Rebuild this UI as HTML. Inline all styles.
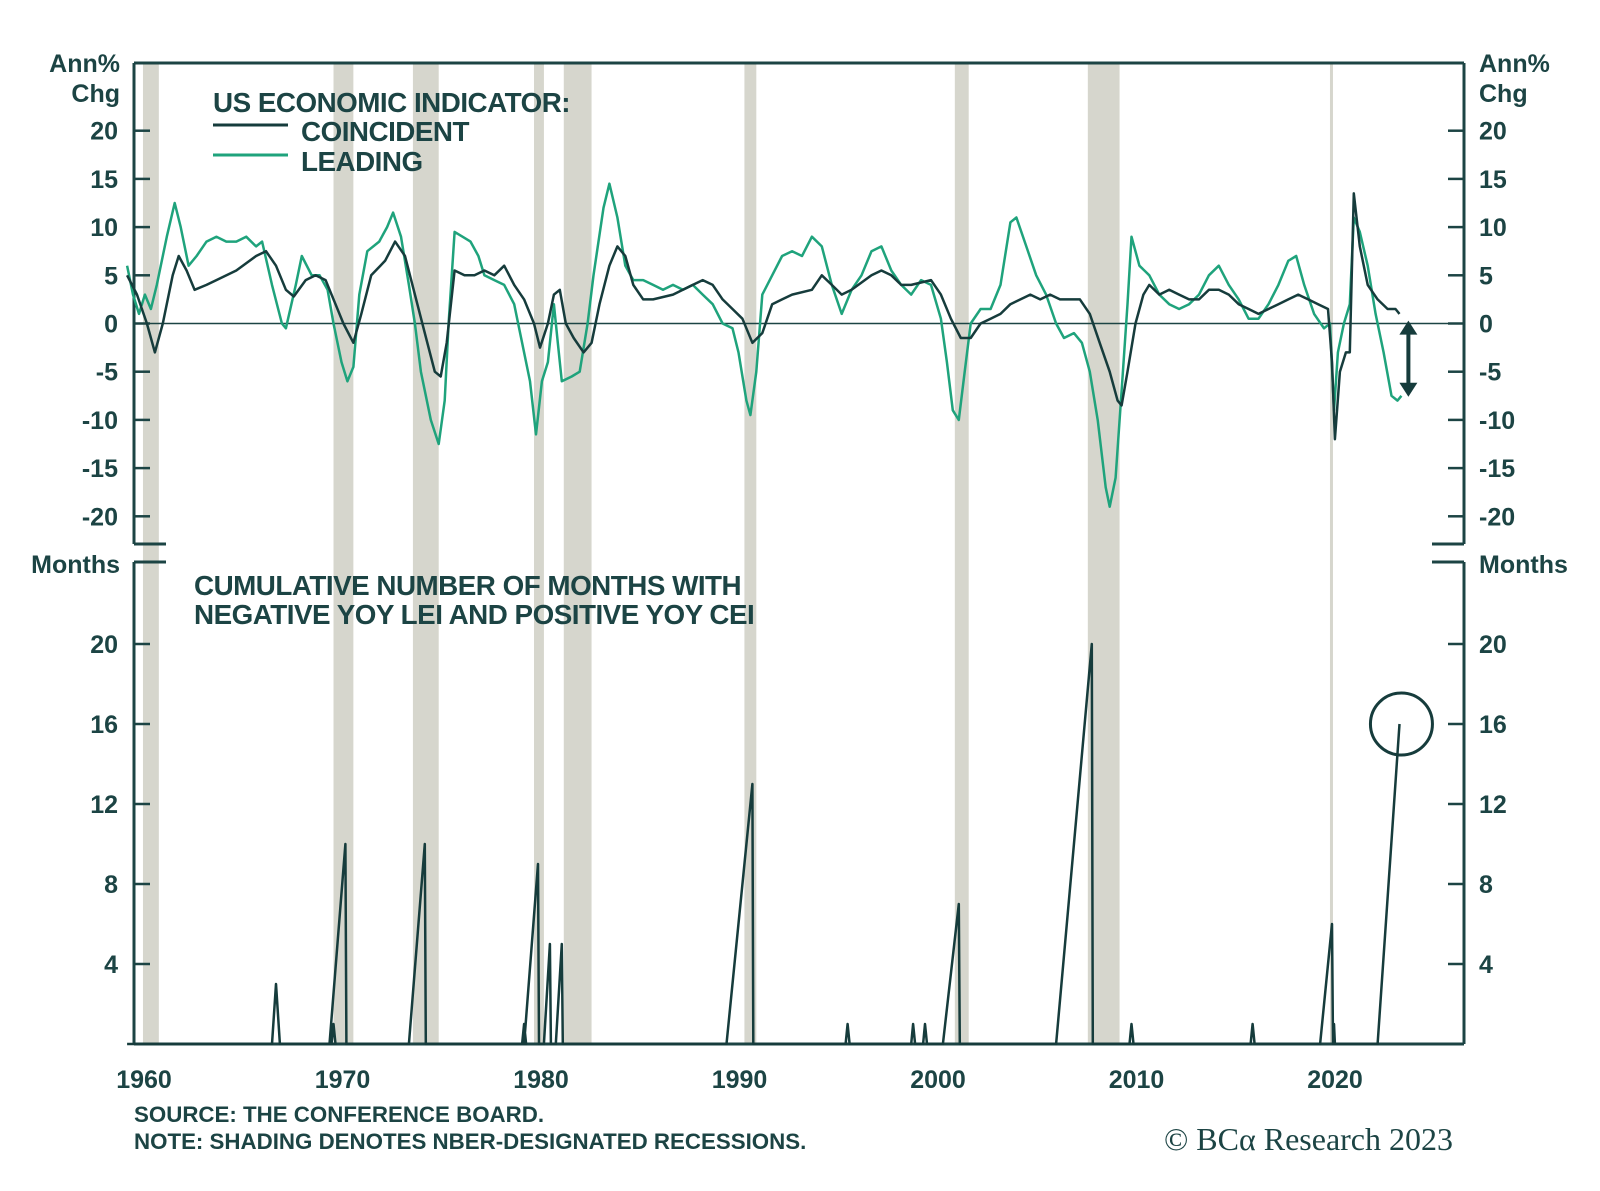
<!DOCTYPE html>
<html><head><meta charset="utf-8"><style>
body{margin:0;background:#fff;}
svg{display:block;font-family:"Liberation Sans",sans-serif;}
.lbl{font-size:25px;font-weight:bold;fill:#1c4444;}
.ttl{font-size:27.8px;font-weight:bold;fill:#1c4444;letter-spacing:-0.5px;}
.note{font-size:22.3px;font-weight:bold;fill:#1c4444;}
</style></head><body>
<svg id="chart" width="1600" height="1191" viewBox="0 0 1600 1191" xmlns="http://www.w3.org/2000/svg">
<g id="shade"></g>
<g id="axes"></g>
<g id="series"></g>
<g>
<text class="ttl" x="213" y="112">US ECONOMIC INDICATOR:</text>
<line x1="213" y1="125" x2="288" y2="125" stroke="#163c3c" stroke-width="3"/>
<text class="ttl" x="301" y="141">COINCIDENT</text>
<line x1="213" y1="155" x2="288" y2="155" stroke="#1fa37c" stroke-width="3"/>
<text class="ttl" x="301" y="171">LEADING</text>
</g>
<text class="ttl" x="194" y="595">CUMULATIVE NUMBER OF MONTHS WITH</text>
<text class="ttl" x="194" y="624">NEGATIVE YOY LEI AND POSITIVE YOY CEI</text>
<text class="lbl" x="120" y="72" text-anchor="end">Ann%</text>
<text class="lbl" x="120" y="102" text-anchor="end">Chg</text>
<text class="lbl" x="1479" y="72">Ann%</text>
<text class="lbl" x="1479" y="102">Chg</text>
<text class="lbl" x="120" y="573" text-anchor="end">Months</text>
<text class="lbl" x="1479" y="573">Months</text>
<text class="note" x="134" y="1122">SOURCE: THE CONFERENCE BOARD.</text>
<text class="note" x="134" y="1149">NOTE: SHADING DENOTES NBER-DESIGNATED RECESSIONS.</text>
<text x="1453" y="1150" text-anchor="end" style="font-family:'Liberation Serif',serif;font-size:32px;fill:#1c4444">© BCα Research 2023</text>
</svg>
<script>
const recStart=[1960.3,1969.9,1973.9,1980.0,1981.5,1990.6,2001.2,2007.9,2020.1];
const recEnd=[1961.1,1970.9,1975.2,1980.5,1982.9,1991.2,2001.9,2009.5,2020.25];
const topTicks=[20,15,10,5,0,-5,-10,-15,-20];
const botTicks=[20,16,12,8,4];
const yearTicks=[1960,1970,1980,1990,2000,2010,2020];
const coinYears=[1959.5,1960.0,1960.5,1960.9,1961.3,1961.8,1962.1,1962.5,1962.9,1963.5,1964,1965,1966,1966.5,1967,1967.5,1967.9,1968.5,1969,1969.5,1970,1970.4,1970.9,1971.3,1971.8,1972.5,1973.0,1973.5,1974,1974.5,1975.0,1975.3,1975.6,1976,1976.5,1977,1977.5,1978,1978.5,1979.0,1979.5,1980.0,1980.3,1980.7,1981.0,1981.3,1981.6,1982,1982.5,1982.9,1983.3,1983.8,1984.2,1984.6,1985,1985.5,1986,1987,1988,1988.5,1989,1989.5,1990,1990.5,1991.0,1991.5,1992,1992.5,1993,1994,1994.5,1995,1995.5,1996,1997,1997.5,1998,1998.5,1999,2000,2000.5,2001.0,2001.5,2002,2002.5,2003,2003.5,2004,2005,2005.5,2006,2006.5,2007,2007.5,2008,2008.5,2009.0,2009.4,2009.6,2009.9,2010.3,2010.7,2011,2011.5,2012,2012.5,2013,2013.5,2014,2014.5,2015,2015.5,2016,2016.5,2017,2017.5,2018,2018.5,2019,2019.5,2020.0,2020.2,2020.35,2020.6,2020.9,2021.1,2021.3,2021.6,2022,2022.5,2023,2023.4,2023.6];
const coinVals=[5,3,0,-3,0,5,7,5.5,3.5,4,4.5,5.5,7,7.5,6,3.5,2.8,4.5,5,4.5,2,0,-2,1,5,6.5,8.5,7,3,-1,-5,-5.5,-2,5.5,5,5,5.5,5,6,4,2.5,0,-2.5,0,3,3.5,0,-1.5,-3,-2,2,6,8,7,4,2.5,2.5,3,4,4.5,4,2.5,1.5,0.5,-2,-1,2,2.5,3,3.5,5,4,3,3.5,5,5.5,5,4,4,4.5,3,0.5,-1.5,-1.5,0,0.5,1,2,3,2.5,3,2.5,2.5,2.5,1,-2,-5,-8,-8.5,-5,0,3,4,3,3.5,3,2.5,2.5,3.5,3.5,3,2,1.5,1,1.5,2,2.5,3,2.5,2,1.5,-4,-12,-5,-3,-3,13.5,8,4,2.5,1.5,1.5,1];
const leadYears=[1959.5,1959.8,1960.1,1960.4,1960.7,1961.0,1961.5,1961.9,1962.2,1962.6,1963,1963.5,1964,1964.5,1965,1965.5,1966,1966.3,1966.8,1967.3,1967.5,1968,1968.3,1968.8,1969.2,1969.6,1969.9,1970.3,1970.6,1970.9,1971.2,1971.6,1972.2,1972.6,1972.9,1973.3,1973.7,1974.0,1974.3,1974.8,1975.2,1975.5,1975.7,1976,1976.4,1976.8,1977.2,1977.5,1978,1978.5,1979,1979.4,1979.8,1980.1,1980.4,1980.7,1981.0,1981.2,1981.4,1981.9,1982.3,1982.7,1983.0,1983.5,1983.8,1984.2,1984.6,1985,1985.5,1986,1986.5,1987,1987.5,1988,1988.5,1989,1989.5,1990,1990.3,1990.7,1990.9,1991.2,1991.5,1992,1992.5,1993,1993.5,1994,1994.5,1995,1995.5,1996,1996.5,1997,1997.5,1998,1998.5,1999,1999.5,2000,2000.5,2000.8,2001.1,2001.4,2001.7,2002,2002.5,2003,2003.5,2004.0,2004.3,2004.8,2005.3,2005.8,2006.3,2006.7,2007.2,2007.6,2008.0,2008.4,2008.8,2009.0,2009.3,2009.6,2009.9,2010.1,2010.5,2011,2011.5,2012,2012.5,2013,2013.5,2014,2014.5,2015,2015.5,2016,2016.5,2017,2017.5,2018,2018.4,2018.8,2019.3,2019.8,2020.1,2020.3,2020.5,2020.8,2021.1,2021.3,2021.6,2022,2022.4,2022.8,2023.2,2023.5,2023.7];
const leadVals=[6,3,1,3,1.5,4,9,12.5,10,6,7,8.5,9,8.5,8.5,9,8,8.5,4,0,-0.5,4,7,5,5,3.5,0,-4,-6,-4.5,3,7.5,8.5,10,11.5,9,4,0,-5,-10,-12.5,-8,0,9.5,9,8.5,7,5,4.5,4,2,-2,-6,-11.5,-6,-4,2,-2,-6,-5.5,-5,0,5,12,14.5,11,6,4.5,4.5,4,3.5,4,3.5,4,3,2,0,-0.5,-3,-8,-9.5,-5,3,5,7,7.5,7,9,8,4,1,3.5,5,7.5,8,5.5,4,3,4.5,4,0.5,-4,-9,-10,-5,0,1.5,1.5,4,10.5,11,8,5,3,0,-1.5,-1,-2,-5,-10,-17,-19,-16,-7,2,9,6,5,3,2,1.5,2,3,5,6,4,2.5,0.5,0.5,2,4,6.5,7,4,1,-0.5,0,-9,-3,0,2,11,9.5,6,1,-3,-7.5,-8,-7.5];
const cumYears=[1959.5,1966.8,1967.0,1967.2,1969.8,1969.9,1970.0,1969.7,1970.5,1970.55,1973.7,1974.5,1974.55,1979.4,1979.5,1979.6,1979.5,1980.2,1980.25,1980.5,1980.8,1980.85,1981.1,1981.4,1981.45,1989.7,1991.0,1991.05,1995.7,1995.8,1995.9,1999.0,1999.1,1999.2,1999.6,1999.7,1999.8,2000.6,2001.4,2001.45,2006.3,2008.1,2008.15,2010.0,2010.1,2010.2,2016.1,2016.2,2016.3,2019.6,2020.2,2020.25,2020.3,2020.35,2022.5,2023.6];
const cumVals=[0,0,3,0,0,1,0,0,10,0,0,10,0,0,1,0,0,9,0,0,5,0,0,5,0,0,13,0,0,1,0,0,1,0,0,1,0,0,7,0,0,20,0,0,1,0,0,1,0,0,6,0,1,0,0,16];

const NS="http://www.w3.org/2000/svg";
const L=134,R=1464,T=63,TB=544,BT=562,BB=1044;
const x=y=>137+19.85*(y-1960);
const yT=v=>323.5-v*9.64;
const yB=v=>BB-v*20;
const ink="#1c4444";
function mk(tag,attrs,parent){const e=document.createElementNS(NS,tag);for(const k in attrs)e.setAttribute(k,attrs[k]);parent.appendChild(e);return e;}
const shade=document.getElementById('shade'),axes=document.getElementById('axes'),series=document.getElementById('series');
recStart.forEach((s,i)=>{
  const r=mk('rect',{x:x(s),y:T,width:Math.max(2,x(recEnd[i])-x(s)),height:BB-T,fill:"#d6d6cd"},shade);
  
  
});
const al=[[L,T,R,T],[L,T,L,TB],[R,T,R,TB],[L,BT,L,BB],[R,BT,R,BB],[L,BB,R,BB],[L,TB,L+32,TB],[R-32,TB,R,TB],[L,BT,L+32,BT],[R-32,BT,R,BT]];
al.forEach(a=>{const l=mk('line',{x1:a[0],y1:a[1],x2:a[2],y2:a[3],stroke:ink,'stroke-width':3},axes);
  
  });
const z=mk('line',{x1:L,y1:yT(0),x2:R,y2:yT(0),stroke:ink,'stroke-width':1.5},axes);


topTicks.forEach(v=>{
  mk('line',{x1:L,y1:yT(v),x2:L+16,y2:yT(v),stroke:ink,'stroke-width':2.5},axes);
  mk('line',{x1:R-16,y1:yT(v),x2:R,y2:yT(v),stroke:ink,'stroke-width':2.5},axes);
  const t=mk('text',{x:118,y:yT(v)+9,'text-anchor':'end',class:'lbl'},axes);t.textContent=v;
  
  
  const t2=mk('text',{x:1479,y:yT(v)+9,class:'lbl'},axes);t2.textContent=v;
  
  
});
botTicks.forEach(v=>{
  mk('line',{x1:L,y1:yB(v),x2:L+16,y2:yB(v),stroke:ink,'stroke-width':2.5},axes);
  mk('line',{x1:R-16,y1:yB(v),x2:R,y2:yB(v),stroke:ink,'stroke-width':2.5},axes);
  const t=mk('text',{x:118,y:yB(v)+9,'text-anchor':'end',class:'lbl'},axes);t.textContent=v;
  
  
  const t2=mk('text',{x:1479,y:yB(v)+9,class:'lbl'},axes);t2.textContent=v;
  
  
});
yearTicks.forEach(yr=>{
  const t=mk('text',{x:x(yr)+7,y:1088,'text-anchor':'middle',class:'lbl'},axes);t.textContent=yr;
  
  
});
function line(xs,vs,fy,color,w,name){
  const p=mk('polyline',{points:xs.map((a,i)=>x(a).toFixed(1)+','+fy(vs[i]).toFixed(1)).join(' '),fill:'none',stroke:color,'stroke-width':w,'stroke-linejoin':'round'},series);
  
  
}
line(leadYears,leadVals,yT,"#1fa37c",2.5,'leading-line');
line(coinYears,coinVals,yT,"#163c3c",2.5,'coincident-line');
line(cumYears,cumVals,yB,"#163c3c",2.5,'cumulative-months-line');
const c=mk('circle',{cx:x(2023.7),cy:yB(16),r:31,fill:'none',stroke:'#163c3c','stroke-width':3},series);


const ax=x(2024.05),y1=yT(0.3),y2=yT(-7.6);
mk('line',{x1:ax,y1:y1+10,x2:ax,y2:y2-10,stroke:'#163c3c','stroke-width':4},series);
const a1=mk('polygon',{points:`${ax-9},${y1+14} ${ax+9},${y1+14} ${ax},${y1}`,fill:'#163c3c'},series);


const a2=mk('polygon',{points:`${ax-9},${y2-14} ${ax+9},${y2-14} ${ax},${y2}`,fill:'#163c3c'},series);


</script>
</body></html>
